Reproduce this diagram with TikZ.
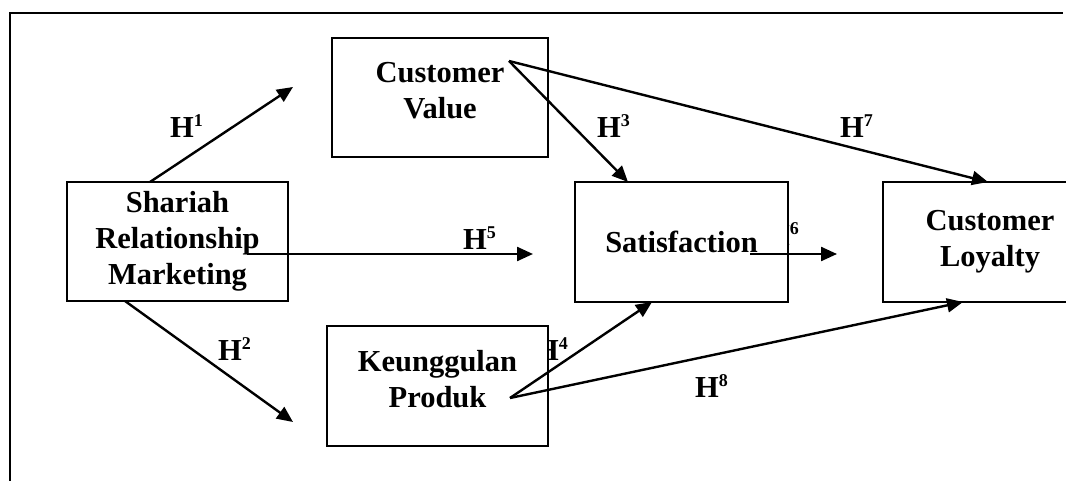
\documentclass[tikz,border=0pt]{standalone}
\usepackage{fontspec}
\setmainfont{Liberation Serif}
\usepackage{tikz}
\usetikzlibrary{arrows.meta}

\newcommand{\hyp}[1]{H\raisebox{11pt}{\fontsize{18}{18}\selectfont #1}}

\begin{document}
\begin{tikzpicture}[x=1pt,y=-1pt,
  box/.style={draw,line width=2pt,fill=white,inner sep=0pt,align=center,
    font=\fontsize{30.5}{36}\selectfont\bfseries},
  lab/.style={anchor=base west,inner sep=0pt,font=\fontsize{30.5}{36}\selectfont\bfseries},
  arr/.style={line width=2.4pt,-{Triangle[length=16pt,width=14pt]}}]

\useasboundingbox (0,0) rectangle (1066,481);
\clip (0,0) rectangle (1066,481);

% frame
\draw[line width=2pt] (10,481) -- (10,13) -- (1063,13);

% hypothesis labels (boxes are drawn over them)
\node[lab] (h1) at (170,138) {\hyp{1}};
\node[lab] (h2) at (218,360) {\hyp{2}};
\node[lab] (h3) at (597,138) {\hyp{3}};
\node[lab] (h4) at (535,360) {\hyp{4}};
\node[lab] (h5) at (463,250) {\hyp{5}};
\node[lab] (h6) at (766,246) {\hyp{6}};
\node[lab] (h7) at (840,138) {\hyp{7}};
\node[lab] (h8) at (695,397) {\hyp{8}};

% variables
\node[box,minimum width=221pt,minimum height=119pt] (srm) at (177.5,241.5) {Shariah\\Relationship\\Marketing};
\node[box,minimum width=216pt,minimum height=119pt,text depth=14pt] (cv) at (440,97.5) {Customer\\Value};
\node[box,minimum width=221pt,minimum height=120pt,text depth=14pt] (kp) at (437.5,386) {Keunggulan\\Produk};
\node[box,minimum width=213pt,minimum height=120pt] (sat) at (681.5,242) {Satisfaction};
\node[box,minimum width=214pt,minimum height=120pt] (cl) at (990,242) {Customer\\Loyalty};

% arrow ends
\coordinate (srm1) at (150,182);
\coordinate (srm2) at (125,301);
\coordinate (srm5) at (247,254);
\coordinate (cvo) at (509,61);
\coordinate (kpo) at (510,398);
\coordinate (sato) at (750,254);
\coordinate (t1) at (293,87);
\coordinate (t2) at (293,422);
\coordinate (t3) at (628,182);
\coordinate (t4) at (652,302);
\coordinate (t5) at (533,254);
\coordinate (t6) at (837,254);
\coordinate (t7) at (988,182);
\coordinate (t8) at (963,302);

\draw[arr] (srm1) -- (t1);
\draw[arr] (srm2) -- (t2);
\draw[arr] (srm5) -- (t5);
\draw[arr] (cvo) -- (t3);
\draw[arr] (cvo) -- (t7);
\draw[arr] (kpo) -- (t4);
\draw[arr] (kpo) -- (t8);
\draw[arr] (sato) -- (t6);

\end{tikzpicture}
\end{document}
